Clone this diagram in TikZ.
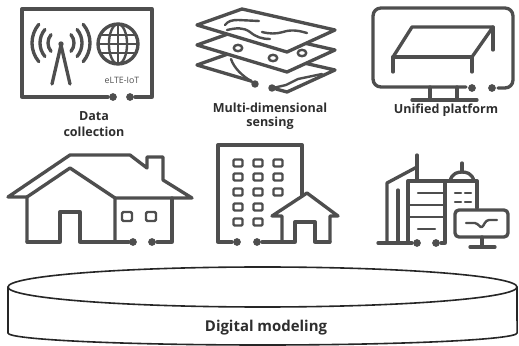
\documentclass[tikz,border=0pt]{standalone}
\usepackage{fontspec}
\setmainfont{Open Sans}
\definecolor{icongray}{HTML}{4E4E4E}
\definecolor{textgray}{HTML}{2E2E2E}
\definecolor{rimgray}{HTML}{262626}
\begin{document}
\begin{tikzpicture}[x=0.75pt,y=-0.75pt,
  icon/.style={draw=icongray,line width=2.5pt,line join=round,line cap=round},
  fineicon/.style={icon,line width=1.8pt},
  pin/.style={fill=icongray},
  lbl/.style={font=\bfseries\fontsize{9.4}{11}\selectfont,text=textgray,inner sep=0pt},
  plate/.style={icon,fill=white}]
\useasboundingbox (0,0) rectangle (519,346);

% ---------- data collection: frame with antenna, waves and globe ----------
\draw[icon] (108,97) -- (22,97) -- (22,9) -- (152,9) -- (152,97) -- (135,97);
\fill[pin] (113,97) circle[radius=2.9pt];
\fill[pin] (130,97) circle[radius=2.9pt];
\draw[icon] (52,84) -- (61,45) -- (70,84);
\fill[pin] (61,44) circle[radius=2pt];
\foreach \r in {9.75,15.75,21.75}{
  \draw[icon] (61,43) ++(140:\r pt) arc[start angle=140,end angle=220,radius=\r pt];
  \draw[icon] (61,43) ++(-40:\r pt) arc[start angle=-40,end angle=40,radius=\r pt];
}
\draw[icon] (118,44) circle[radius=15pt];
\draw[fineicon] (118,44) ellipse[x radius=6.8pt,y radius=15pt];
\draw[fineicon] (118,24) -- (118,64);
\draw[fineicon] (98,44) -- (138,44);
\draw[fineicon] (100.5,35) -- (135.5,35);
\draw[fineicon] (100.5,53) -- (135.5,53);
\node[text=icongray,font=\fontsize{6.6}{7}\selectfont,inner sep=0pt] (iotlbl) at (122,80) {eLTE-IoT};
\node[lbl] (datalbl) at (94,116) {Data};
\node[lbl] (collectlbl) at (94,132) {collection};

% ---------- multi-dimensional sensing: three stacked circuit plates ----------
\fill[white] (197,65) -- (242,49) -- (335,70) -- (287,92) -- cycle;
\draw[icon] (276,89) -- (287,92) -- (335,70) -- (242,49) -- (197,65) -- (251,81);
\draw[fineicon] (231,59) .. controls (234,68) and (242,76) .. (254,83);
\draw[fineicon] (273,88) -- (286,85) -- (298,79) -- (322,74);
\fill[pin] (255,84) circle[radius=2.8pt];
\fill[pin] (272,88) circle[radius=2.8pt];
\draw[plate] (197,45) -- (242,29) -- (335,50) -- (287,72) -- cycle;
\foreach \p in {(238,48),(273,58),(302,53)}
  \draw[fineicon] \p ellipse[x radius=3.2pt,y radius=2.4pt];
\draw[plate] (197,25) -- (242,9) -- (335,30) -- (287,52) -- cycle;
\draw[fineicon] (225,25) .. controls (228,21) and (232,20) .. (238,20) -- (259,21);
\draw[fineicon] (227,30) .. controls (236,28) and (243,27) .. (250,32)
  .. controls (256,37) and (262,39) .. (270,39);
\draw[fineicon] (262,32) .. controls (270,34) and (276,34) .. (283,32)
  .. controls (292,29) and (300,31) .. (307,33);
\node[lbl] (multilbl) at (270,108) {Multi-dimensional};
\node[lbl] (sensinglbl) at (270,123) {sensing};

% ---------- unified platform: monitor with open box ----------
\draw[icon,rounded corners=6pt] (466,87) -- (373,87) -- (373,8) -- (513,8) -- (513,88) -- (498,88);
\fill[pin] (472,88) circle[radius=2.9pt];
\fill[pin] (492,88) circle[radius=2.9pt];
\draw[icon] (430,87) -- (430,100);
\draw[icon] (457,87) -- (457,100);
\draw[icon] (412,100) -- (477,100);
\draw[icon] (393,72) -- (393,57) -- (472,57) -- (472,72);
\draw[icon] (393,57) -- (412,27) -- (493,27) -- (472,57);
\draw[icon] (493,27) -- (493,50);
\node[lbl] (platformlbl) at (446,110) {Unified platform};

% ---------- house ----------
\draw[icon] (27,197) -- (8,197) -- (70,155) -- (130,155) -- (147,168) -- (147,157)
  -- (163,157) -- (163,180) -- (192,198) -- (115,198);
\draw[icon] (27,242) -- (27,197) -- (70,168) -- (115,198) -- (115,242);
\draw[icon] (27,242) -- (60,242) -- (60,212) -- (80,212) -- (80,242) -- (129,242);
\fill[pin] (133,242) circle[radius=2.9pt];
\fill[pin] (152,242) circle[radius=2.9pt];
\draw[icon] (157,242) -- (172,242) -- (172,198);
\draw[fineicon,rounded corners=1pt] (122,212) rectangle (132,221);
\draw[fineicon,rounded corners=1pt] (146,212) rectangle (156,221);

% ---------- apartment block with small house ----------
\draw[icon] (232,242) -- (218,242) -- (218,145) -- (302,145) -- (302,196);
\fill[pin] (237,242) circle[radius=2.9pt];
\fill[pin] (257,242) circle[radius=2.9pt];
\draw[icon] (262,242) -- (295,242) -- (295,222) -- (315,222) -- (315,242) -- (330,242);
\draw[icon] (282,242) -- (282,216) -- (272,216) -- (307,193) -- (338,216) -- (330,216) -- (330,242);
\foreach \y in {163,177,192}
  \foreach \x in {238,258,278}
    \draw[fineicon,rounded corners=0.8pt] (\x-4.5,\y-3.5) rectangle (\x+4.5,\y+3.5);
\foreach \y in {207,222}
  \foreach \x in {238,258}
    \draw[fineicon,rounded corners=0.8pt] (\x-4.5,\y-3.5) rectangle (\x+4.5,\y+3.5);

% ---------- city skyline with dashboard ----------
\draw[icon] (378,243) -- (412,243);
\fill[pin] (417,243) circle[radius=2.9pt];
\fill[pin] (436,243) circle[radius=2.9pt];
\draw[icon] (441,243) -- (445,243) -- (445,181);
\draw[icon] (387,243) -- (387,183) -- (417,167);
\draw[icon] (417,155) -- (417,181);
\draw[icon] (398,190) -- (398,243);
\draw[icon] (408,243) -- (408,181) -- (477,181) -- (477,208);
\draw[fineicon] (418,193) -- (443,193);
\draw[fineicon] (408,205) -- (443,205);
\draw[fineicon] (408,217) -- (443,217);
\draw[fineicon] (418,229) -- (435,229);
\draw[icon] (450,181) .. controls (452,173) and (458,172) .. (462,172)
  .. controls (466,172) and (472,173) .. (474,181);
\draw[icon] (462,172) -- (462,163);
\draw[fineicon] (455,193) -- (461,193) (465,193) -- (471,193);
\draw[fineicon] (455,202) -- (461,202) (465,202) -- (471,202);
\draw[icon,rounded corners=3pt] (455,210) rectangle (508,237);
\draw[icon] (482,237) -- (482,247);
\draw[icon] (470,247) -- (495,247);
\draw[fineicon] (466,223) -- (475,223) .. controls (479,224) and (480,228) .. (482,227)
  .. controls (484,226) and (485,220) .. (489,220) -- (497,220);

% ---------- digital modeling base ----------
\draw[draw=rimgray,line width=1.2pt,fill=white]
  (8,287) -- (8,333) arc[start angle=180,end angle=360,x radius=190.9pt,y radius=9pt]
  -- (517,287);
\draw[draw=rimgray,line width=1.2pt,fill=white] (262.5,287) ellipse[x radius=190.9pt,y radius=15pt];
\node[font=\bfseries\fontsize{11.2}{13}\selectfont,text=textgray,inner sep=0pt] (modellbl) at (266,328) {Digital modeling};
\end{tikzpicture}
\end{document}
